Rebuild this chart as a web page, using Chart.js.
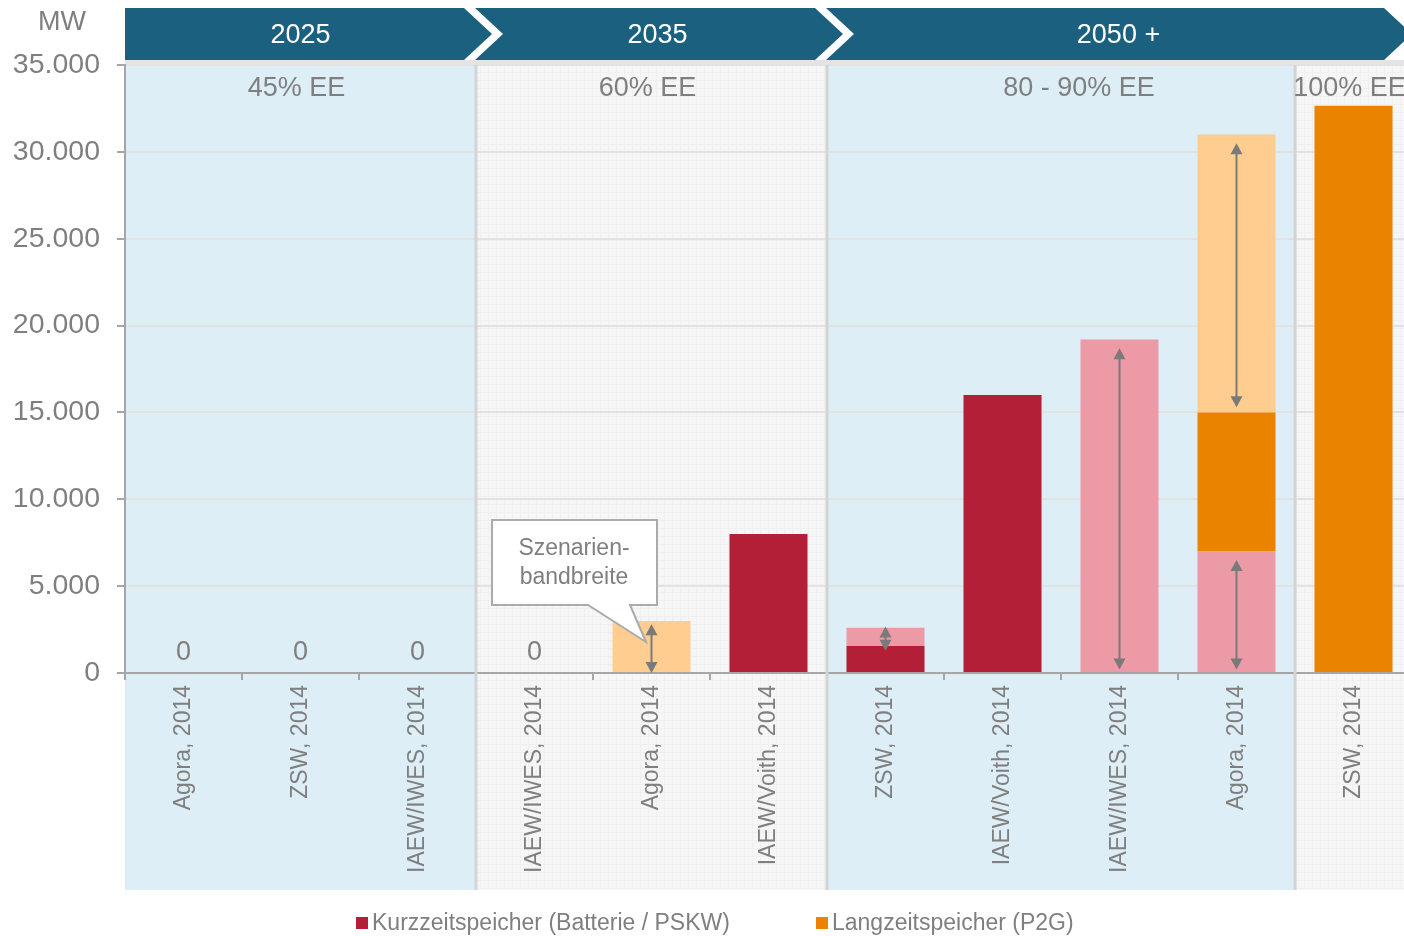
<!DOCTYPE html>
<html>
<head>
<meta charset="utf-8">
<script src="https://cdn.jsdelivr.net/npm/chart.js@4.4.1/dist/chart.umd.min.js"></script>
<style>
  html, body { margin: 0; padding: 0; background: #fff; overflow: hidden; }
  #wrap { width: 1404px; height: 936px; overflow: hidden; }
</style>
</head>
<body>
<div id="wrap"><canvas id="storage" width="1420" height="936"></canvas></div>
<script>
// categories (studies) and values in MW
const studies = ['Agora, 2014', 'ZSW, 2014', 'IAEW/IWES, 2014',
                 'IAEW/IWES, 2014', 'Agora, 2014', 'IAEW/Voith, 2014',
                 'ZSW, 2014', 'IAEW/Voith, 2014', 'IAEW/IWES, 2014', 'Agora, 2014',
                 'ZSW, 2014']
const kurzzeit      = [0, 0, 0, 0, 0, 8000, 1550, 16000, 0, 0, 0]
const kurzzeitRange = [0, 0, 0, 0, 0, 0, 1050, 0, 19200, 7000, 0]
const langzeit      = [0, 0, 0, 0, 0, 0, 0, 0, 0, 8000, 32650]
const langzeitRange = [0, 0, 0, 0, 3000, 0, 0, 0, 0, 16000, 0]
const zeroLabels    = [0, 1, 2, 3]   // studies showing "0"

const yTicks = [0, 5000, 10000, 15000, 20000, 25000, 30000, 35000]

// time periods / scenario shares (boundaries in category index)
const periods      = ['2025', '2035', '2050 +']
const periodBounds = [[0, 3], [3, 6], [6, 11]]
const shares       = ['45% EE', '60% EE', '80 - 90% EE', '100% EE']
const shareBounds  = [[0, 3], [3, 6], [6, 10], [10, 11]]

// range arrows: [category, from MW, to MW]
const rangeArrows = [[4, 2800, 0], [6, 2680, 1280], [8, 18700, 200], [9, 30500, 15300], [9, 6500, 200]]

const C = {
  kurz: '#b21f37', kurzR: '#ec9aa6', lang: '#e98300', langR: '#fecd8f',
  blue: '#1c6080', text: '#7f7f7f', axis: '#a6a6a6', grid: '#e2e2e2',
  secBlue: '#ddeef6', secGray: '#f6f6f6', sep: '#d4d4d4'
}
const FONT = '"Liberation Sans", Arial, sans-serif'

function fmt(v) { return String(v).replace(/\B(?=(\d{3})+(?!\d))/g, '.') }

// faint grid pattern for the grey periods
function grayPattern(ctx) {
  const p = document.createElement('canvas')
  p.width = 8; p.height = 8
  const c = p.getContext('2d')
  c.fillStyle = C.secGray; c.fillRect(0, 0, 8, 8)
  c.fillStyle = '#f0f0f0'; c.fillRect(0, 0, 8, 1); c.fillRect(0, 0, 1, 8)
  return ctx.createPattern(p, 'repeat')
}

const decor = {
  id: 'decor',
  beforeDraw(chart) {
    const { ctx, chartArea: a, scales: { x } } = chart
    const cw = (a.right - a.left) / studies.length
    const bx = i => a.left + i * cw
    const bottom = x.bottom
    ctx.save()
    // section backgrounds
    const pat = grayPattern(ctx)
    shareBounds.forEach((b, i) => {
      ctx.fillStyle = i % 2 === 0 ? C.secBlue : pat
      ctx.fillRect(bx(b[0]), a.top, bx(b[1]) - bx(b[0]), bottom - a.top)
    })
    // thin strip under header
    ctx.fillStyle = '#e4e4e4'
    ctx.fillRect(a.left, 60, chart.width, a.top - 60)
    // header chevrons
    const top = 8, bot = 60, mid = 34, d = 28
    periodBounds.forEach((b, i) => {
      const L = bx(b[0]), R = bx(b[1])
      const last = i === periodBounds.length - 1
      const rTop = last ? R - d : R - 12
      ctx.beginPath()
      if (i === 0) { ctx.moveTo(L, top) } else { ctx.moveTo(L - 1, top) }
      ctx.lineTo(rTop, top)
      ctx.lineTo(rTop + d, mid)
      ctx.lineTo(rTop, bot)
      if (i === 0) { ctx.lineTo(L, bot) } else { ctx.lineTo(L - 1, bot); ctx.lineTo(L - 1 + d, mid) }
      ctx.closePath()
      ctx.fillStyle = C.blue
      ctx.fill()
      ctx.fillStyle = '#fff'
      ctx.font = '27px ' + FONT
      ctx.textAlign = 'center'; ctx.textBaseline = 'middle'
      const cx = (L + R) / 2 + [0, 6, -1][i]
      ctx.fillText(periods[i], cx, mid + 2)
    })
    ctx.restore()
  },
  beforeDatasetsDraw(chart) {
    const { ctx, chartArea: a, scales: { x } } = chart
    const cw = (a.right - a.left) / studies.length
    ctx.save()
    ctx.fillStyle = C.sep
    shareBounds.slice(1).forEach(b => {
      ctx.fillRect(a.left + b[0] * cw - 1.5, a.top, 3, x.bottom - a.top)
    })
    ctx.restore()
  },
  afterDraw(chart) {
    const { ctx, chartArea: a, scales: { x, y } } = chart
    const cw = (a.right - a.left) / studies.length
    ctx.save()
    ctx.fillStyle = C.text
    ctx.textAlign = 'center'; ctx.textBaseline = 'middle'
    // unit
    ctx.font = '27px ' + FONT
    ctx.fillText('MW', 62, 23)
    // scenario shares
    ctx.font = '27px ' + FONT
    shareBounds.forEach((b, i) => {
      let cx = a.left + (b[0] + b[1]) / 2 * cw
      cx += i === 2 ? 18 : -4
      ctx.fillText(shares[i], cx, 89)
    })
    // zero labels
    ctx.font = '27px ' + FONT
    zeroLabels.forEach(i => ctx.fillText('0', x.getPixelForValue(i), 653))
    // range arrows
    ctx.strokeStyle = '#7a7a7a'; ctx.fillStyle = '#7a7a7a'; ctx.lineWidth = 2
    rangeArrows.forEach(([i, v1, v2]) => {
      const px = x.getPixelForValue(i), y1 = y.getPixelForValue(v1), y2 = y.getPixelForValue(v2)
      ctx.beginPath(); ctx.moveTo(px, y1 + 8); ctx.lineTo(px, y2 - 8); ctx.stroke()
      ctx.beginPath(); ctx.moveTo(px, y1); ctx.lineTo(px - 6, y1 + 11); ctx.lineTo(px + 6, y1 + 11); ctx.closePath(); ctx.fill()
      ctx.beginPath(); ctx.moveTo(px, y2); ctx.lineTo(px - 6, y2 - 11); ctx.lineTo(px + 6, y2 - 11); ctx.closePath(); ctx.fill()
    })
    // callout
    const bxL = 492, bxT = 520, bxR = 657, bxB = 605
    ctx.beginPath()
    ctx.moveTo(bxL, bxT); ctx.lineTo(bxR, bxT); ctx.lineTo(bxR, bxB)
    ctx.lineTo(630, bxB); ctx.lineTo(646, 642); ctx.lineTo(588, bxB)
    ctx.lineTo(bxL, bxB); ctx.closePath()
    ctx.fillStyle = '#fff'; ctx.fill()
    ctx.strokeStyle = '#ababab'; ctx.lineWidth = 2; ctx.stroke()
    ctx.fillStyle = C.text
    ctx.font = '23px ' + FONT
    ctx.fillText('Szenarien-', 574, 549)
    ctx.fillText('bandbreite', 574, 578)
    // legend
    const legend = [[C.kurz, 'Kurzzeitspeicher (Batterie / PSKW)', 356], [C.lang, 'Langzeitspeicher (P2G)', 816]]
    ctx.textAlign = 'left'
    ctx.font = '23px ' + FONT
    legend.forEach(([col, label, lx]) => {
      ctx.fillStyle = col
      ctx.fillRect(lx, 917, 12, 12)
      ctx.fillStyle = C.text
      ctx.fillText(label, lx + 16, 924)
    })
    ctx.restore()
  }
}

new Chart(document.getElementById('storage'), {
  type: 'bar',
  data: {
    labels: studies,
    datasets: [
      { label: 'Kurzzeitspeicher (Batterie / PSKW)', data: kurzzeit, backgroundColor: C.kurz },
      { label: 'Kurzzeitspeicher Bandbreite', data: kurzzeitRange, backgroundColor: C.kurzR },
      { label: 'Langzeitspeicher (P2G)', data: langzeit, backgroundColor: C.lang },
      { label: 'Langzeitspeicher Bandbreite', data: langzeitRange, backgroundColor: C.langR }
    ]
  },
  options: {
    responsive: false,
    animation: false,
    events: [],
    categoryPercentage: 1,
    barPercentage: 0.667,
    layout: { padding: { top: 65, right: 8, bottom: 46, left: 0 } },
    plugins: { legend: { display: false }, tooltip: { enabled: false } },
    scales: {
      x: {
        stacked: true,
        grid: { display: true, drawOnChartArea: false, tickLength: 7, color: C.axis, lineWidth: 2 },
        border: { display: true, color: C.axis, width: 2 },
        ticks: { color: C.text, font: { family: FONT, size: 23 }, minRotation: 90, maxRotation: 90, padding: 5, autoSkip: false },
        afterFit(s) { s.height = 217 }
      },
      y: {
        stacked: true,
        min: 0, max: 35000,
        afterBuildTicks(s) { s.ticks = yTicks.map(v => ({ value: v })) },
        grid: {
          color: c => c.tick && c.tick.value === 0 ? C.axis : C.grid,
          lineWidth: 2, tickLength: 8, tickColor: C.axis
        },
        border: { display: true, color: C.axis, width: 2 },
        ticks: { color: C.text, font: { family: FONT, size: 28.5 }, padding: 17, callback: v => fmt(v) },
        afterFit(s) { s.width = 125 }
      }
    }
  },
  plugins: [decor]
})
</script>
</body>
</html>
